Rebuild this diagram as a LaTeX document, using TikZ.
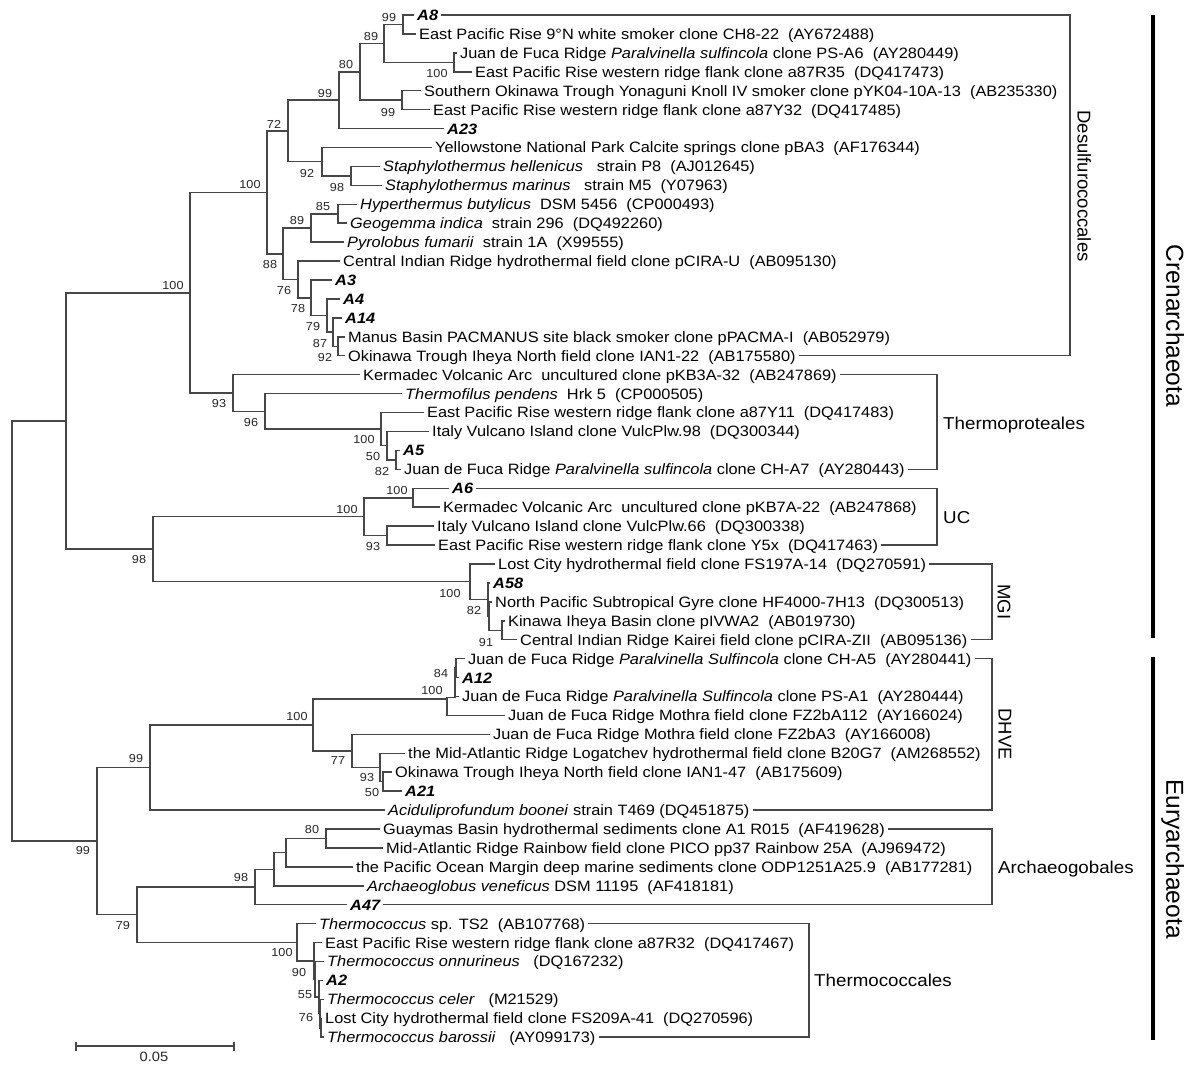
\documentclass[tikz,border=0pt]{standalone}
\usepackage{fontspec}
\setmainfont{Liberation Sans}[FakeStretch=1.09]
\newfontfamily\rotfont{Liberation Sans}
\usepackage{tikz}

\begin{document}
\begin{tikzpicture}[
    x=1pt, y=-1pt,
    branch/.style={draw=black!72, line width=1.45pt},
    bracket/.style={draw=black!72, line width=1.45pt},
    leaf/.style={anchor=west, inner xsep=3pt, inner ysep=0pt, text height=10.8pt, text depth=0pt, font=\fontsize{15}{17}\selectfont},
    clone/.style={leaf, font=\fontsize{15}{17}\selectfont\bfseries\itshape},
    boot/.style={inner sep=0pt, text height=8.3pt, text depth=0pt, text=black!85, font=\fontsize{11.6}{13}\selectfont},
    group/.style={anchor=west, inner sep=0pt, text height=12.4pt, text depth=0pt, font=\fontsize{17.2}{20}\selectfont},
    grouprot/.style={rotate=-90, inner sep=0pt, text height=13pt, text depth=0pt, font=\rotfont\fontsize{18.5}{20}\selectfont},
    phylum/.style={rotate=-90, inner sep=0pt, text height=17.5pt, text depth=0pt, font=\rotfont\fontsize{24.5}{26}\selectfont},
    phybar/.style={line width=4pt}
]
\useasboundingbox (0,0) rectangle (1190,1065);

% Leaves (Crenarchaeota)
\node[clone] (l1) at (414,15.0) {A8};
\node[leaf] (l2) at (416,33.9) {East Pacific Rise 9°N white smoker clone CH8-22~~(AY672488)};
\node[leaf] (l3) at (457,52.9) {Juan de Fuca Ridge \textit{Paralvinella sulfincola} clone PS-A6~~(AY280449)};
\node[leaf] (l4) at (472,71.8) {East Pacific Rise western ridge flank clone a87R35~~(DQ417473)};
\node[leaf] (l5) at (421,90.7) {Southern Okinawa Trough Yonaguni Knoll IV smoker clone pYK04-10A-13~~(AB235330)};
\node[leaf] (l6) at (430,109.7) {East Pacific Rise western ridge flank clone a87Y32~~(DQ417485)};
\node[clone] (l7) at (444,128.6) {A23};
\node[leaf] (l8) at (432,147.5) {Yellowstone National Park Calcite springs clone pBA3~~(AF176344)};
\node[leaf] (l9) at (380,166.4) {\textit{Staphylothermus hellenicus}~~~strain P8~~(AJ012645)};
\node[leaf] (l10) at (382,185.4) {\textit{Staphylothermus marinus}~~~strain M5~~(Y07963)};
\node[leaf] (l11) at (357,204.3) {\textit{Hyperthermus butylicus}~~DSM 5456~~(CP000493)};
\node[leaf] (l12) at (347,223.2) {\textit{Geogemma indica}~~strain 296~~(DQ492260)};
\node[leaf] (l13) at (344,242.2) {\textit{Pyrolobus fumarii}~~strain 1A~~(X99555)};
\node[leaf] (l14) at (340,261.1) {Central Indian Ridge hydrothermal field clone pCIRA-U~~(AB095130)};
\node[clone] (l15) at (332,280.0) {A3};
\node[clone] (l16) at (340,299.0) {A4};
\node[clone] (l17) at (342,317.9) {A14};
\node[leaf] (l18) at (345,336.8) {Manus Basin PACMANUS site black smoker clone pPACMA-I~~(AB052979)};
\node[leaf] (l19) at (345,355.7) {Okinawa Trough Iheya North field clone IAN1-22~~(AB175580)};
\node[leaf] (l20) at (360,374.7) {Kermadec Volcanic Arc~~uncultured clone pKB3A-32~~(AB247869)};
\node[leaf] (l21) at (402,393.6) {\textit{Thermofilus pendens}~~Hrk 5~~(CP000505)};
\node[leaf] (l22) at (424,412.5) {East Pacific Rise western ridge flank clone a87Y11~~(DQ417483)};
\node[leaf] (l23) at (429,431.5) {Italy Vulcano Island clone VulcPlw.98~~(DQ300344)};
\node[clone] (l24) at (400,450.4) {A5};
\node[leaf] (l25) at (401,469.3) {Juan de Fuca Ridge \textit{Paralvinella sulfincola} clone CH-A7~~(AY280443)};
\node[clone] (l26) at (449,488.3) {A6};
\node[leaf] (l27) at (440,507.2) {Kermadec Volcanic Arc~~uncultured clone pKB7A-22~~(AB247868)};
\node[leaf] (l28) at (434,526.1) {Italy Vulcano Island clone VulcPlw.66~~(DQ300338)};
\node[leaf] (l29) at (435,545.0) {East Pacific Rise western ridge flank clone Y5x~~(DQ417463)};
\node[leaf] (l30) at (495,564.0) {Lost City hydrothermal field clone FS197A-14~~(DQ270591)};
\node[clone] (l31) at (490,582.9) {A58};
\node[leaf] (l32) at (492,601.8) {North Pacific Subtropical Gyre clone HF4000-7H13~~(DQ300513)};
\node[leaf] (l33) at (505,620.8) {Kinawa Iheya Basin clone pIVWA2~~(AB019730)};
\node[leaf] (l34) at (517,639.7) {Central Indian Ridge Kairei field clone pCIRA-ZII~~(AB095136)};

% Leaves (Euryarchaeota)
\node[leaf] (l35) at (465,658.6) {Juan de Fuca Ridge \textit{Paralvinella Sulfincola} clone CH-A5~~(AY280441)};
\node[clone] (l36) at (459,677.6) {A12};
\node[leaf] (l37) at (459,696.5) {Juan de Fuca Ridge \textit{Paralvinella Sulfincola} clone PS-A1~~(AY280444)};
\node[leaf] (l38) at (505,715.4) {Juan de Fuca Ridge Mothra field clone FZ2bA112~~(AY166024)};
\node[leaf] (l39) at (490,734.3) {Juan de Fuca Ridge Mothra field clone FZ2bA3~~(AY166008)};
\node[leaf] (l40) at (405,753.3) {the Mid-Atlantic Ridge Logatchev hydrothermal field clone B20G7~~(AM268552)};
\node[leaf] (l41) at (392,772.2) {Okinawa Trough Iheya North field clone IAN1-47~~(AB175609)};
\node[clone] (l42) at (402,791.1) {A21};
\node[leaf] (l43) at (385,810.1) {\textit{Aciduliprofundum boonei} strain T469 (DQ451875)};
\node[leaf] (l44) at (380,829.0) {Guaymas Basin hydrothermal sediments clone A1 R015~~(AF419628)};
\node[leaf] (l45) at (383,847.9) {Mid-Atlantic Ridge Rainbow field clone PICO pp37 Rainbow 25A~~(AJ969472)};
\node[leaf] (l46) at (353,866.9) {the Pacific Ocean Margin deep marine sediments clone ODP1251A25.9~~(AB177281)};
\node[leaf] (l47) at (364,885.8) {\textit{Archaeoglobus veneficus} DSM 11195~~(AF418181)};
\node[clone] (l48) at (347,904.7) {A47};
\node[leaf] (l49) at (316,923.6) {\textit{Thermococcus} sp. TS2~~(AB107768)};
\node[leaf] (l50) at (322,942.6) {East Pacific Rise western ridge flank clone a87R32~~(DQ417467)};
\node[leaf] (l51) at (324,961.5) {\textit{Thermococcus onnurineus}~~~(DQ167232)};
\node[clone] (l52) at (323,980.4) {A2};
\node[leaf] (l53) at (324,999.4) {\textit{Thermococcus celer}~~~(M21529)};
\node[leaf] (l54) at (322,1018.3) {Lost City hydrothermal field clone FS209A-41~~(DQ270596)};
\node[leaf] (l55) at (324,1037.2) {\textit{Thermococcus barossii}~~~(AY099173)};

% Internal nodes
\coordinate (root) at (12,631);
\coordinate (U0) at (66,421);
\coordinate (C1) at (190,292.8);
\coordinate (C2) at (267,192.4);
\coordinate (C3) at (288,131);
\coordinate (C4) at (339,100.2);
\coordinate (C5) at (360,71.8);
\coordinate (C6) at (384,43.4);
\coordinate (C7) at (403,24.5);
\coordinate (C8) at (454,62.3);
\coordinate (C9) at (402,100.2);
\coordinate (C10) at (322,161.7);
\coordinate (C11) at (351,175.9);
\coordinate (C12) at (283,253.8);
\coordinate (C13) at (311,228);
\coordinate (C14) at (338,213.8);
\coordinate (C15) at (298,279.5);
\coordinate (C16) at (311,297.8);
\coordinate (C17) at (327,315.6);
\coordinate (C18) at (333,332.1);
\coordinate (C19) at (338,346.3);
\coordinate (C20) at (233,393.1);
\coordinate (C21) at (265,411.4);
\coordinate (C22) at (381,429.1);
\coordinate (C23) at (387,445.7);
\coordinate (C24) at (396,459.9);
\coordinate (C25) at (153,549.2);
\coordinate (UC) at (364,516.7);
\coordinate (UC1) at (413,497.8);
\coordinate (UC2) at (387,535.6);
\coordinate (MG) at (470,581.7);
\coordinate (M2) at (488,599.5);
\coordinate (M2b) at (489,616);
\coordinate (M3) at (502,630.3);
\coordinate (E1) at (97,841.1);
\coordinate (E2) at (150,767.5);
\coordinate (E4) at (313,724.9);
\coordinate (E5) at (447,698.9);
\coordinate (E7) at (455,697.5);
\coordinate (E7a) at (456,668.1);
\coordinate (E6) at (352,750.9);
\coordinate (E8) at (380,767.5);
\coordinate (E9) at (383,781.7);
\coordinate (E3) at (137,914.7);
\coordinate (E10) at (255,887);
\coordinate (E12) at (274,869.3);
\coordinate (E13) at (286,852.7);
\coordinate (E14) at (326,838.5);
\coordinate (E11) at (297,942.3);
\coordinate (E15) at (314,961);
\coordinate (E15b) at (315,979.3);
\coordinate (E15c) at (319,997);
\coordinate (E16) at (320,1013.6);
\coordinate (E17) at (321,1027.8);

% Branches
\foreach \p/\c in {root/U0, root/E1, U0/C1, U0/C25, C1/C2, C1/C20, C2/C3, C2/C12,
    C3/C4, C3/C10, C4/C5, C4/l7, C5/C6, C5/C9, C6/C7, C6/C8, C7/l1, C7/l2,
    C8/l3, C8/l4, C9/l5, C9/l6, C10/l8, C10/C11, C11/l9, C11/l10,
    C12/C13, C12/C15, C13/C14, C13/l13, C14/l11, C14/l12, C15/l14, C15/C16,
    C16/l15, C16/C17, C17/l16, C17/C18, C18/l17, C18/C19, C19/l18, C19/l19,
    C20/l20, C20/C21, C21/l21, C21/C22, C22/l22, C22/C23, C23/l23, C23/C24,
    C24/l24, C24/l25, C25/UC, C25/MG, UC/UC1, UC/UC2, UC1/l26, UC1/l27,
    UC2/l28, UC2/l29, MG/l30, MG/M2, M2/l31, M2/M2b, M2b/l32, M2b/M3,
    M3/l33, M3/l34}
  \draw[branch] (\p) |- (\c);
\foreach \p/\c in {E1/E2, E1/E3, E2/E4, E2/l43, E4/E5, E4/E6, E5/E7, E5/l38,
    E7/E7a, E7/l37, E7a/l35, E7a/l36, E6/l39, E6/E8, E8/l40, E8/E9, E9/l41, E9/l42,
    E3/E10, E3/E11, E10/E12, E10/l48, E12/E13, E12/l47, E13/E14, E13/l46,
    E14/l44, E14/l45, E11/l49, E11/E15, E15/l50, E15/E15b, E15b/l51, E15b/E15c,
    E15c/l52, E15c/E16, E16/l53, E16/E17, E17/l54, E17/l55}
  \draw[branch] (\p) |- (\c);

% Bootstrap values
\node[boot] (b1) at (389,17) {99};
\node[boot] (b2) at (371,36) {89};
\node[boot] (b3) at (346,64) {80};
\node[boot] (b4) at (325,93) {99};
\node[boot] (b5) at (437,73) {100};
\node[boot] (b6) at (388,112) {99};
\node[boot] (b7) at (274,124) {72};
\node[boot] (b8) at (250,184) {100};
\node[boot] (b9) at (307,173) {92};
\node[boot] (b10) at (337,187) {98};
\node[boot] (b11) at (323,206) {85};
\node[boot] (b12) at (297,220) {89};
\node[boot] (b13) at (270,264) {88};
\node[boot] (b14) at (284,290) {76};
\node[boot] (b15) at (298,308) {78};
\node[boot] (b16) at (313,326) {79};
\node[boot] (b17) at (320,343) {87};
\node[boot] (b18) at (325,357) {92};
\node[boot] (b19) at (173,285) {100};
\node[boot] (b20) at (219,403) {93};
\node[boot] (b21) at (251,422) {96};
\node[boot] (b22) at (364,439) {100};
\node[boot] (b23) at (373,456) {50};
\node[boot] (b24) at (382,471) {82};
\node[boot] (b25) at (397,490) {100};
\node[boot] (b26) at (347,509) {100};
\node[boot] (b27) at (373,546) {93};
\node[boot] (b28) at (139,559) {98};
\node[boot] (b29) at (450,593) {100};
\node[boot] (b30) at (474,610) {82};
\node[boot] (b31) at (486,642) {91};
\node[boot] (b32) at (441,673) {84};
\node[boot] (b33) at (432,690) {100};
\node[boot] (b34) at (297,716) {100};
\node[boot] (b35) at (338,760) {77};
\node[boot] (b36) at (367,777) {93};
\node[boot] (b37) at (372,792) {50};
\node[boot] (b38) at (136,758) {99};
\node[boot] (b39) at (83,850) {99};
\node[boot] (b40) at (312,829) {80};
\node[boot] (b41) at (241,877) {98};
\node[boot] (b42) at (123,925) {79};
\node[boot] (b43) at (282,952) {100};
\node[boot] (b44) at (299,972) {90};
\node[boot] (b45) at (305,994) {55};
\node[boot] (b46) at (306,1017) {76};

% Group brackets
\coordinate (dsb) at (1070,355.7);
\coordinate (thb) at (937,469.3);
\coordinate (ucb) at (937,545.0);
\coordinate (mgb) at (992,639.7);
\coordinate (dhb) at (992,810.1);
\coordinate (arb) at (992,904.7);
\coordinate (tcb) at (809,1037.2);
\draw[bracket] (l1) -| (dsb) -- (l19);
\draw[bracket] (l20) -| (thb) -- (l25);
\draw[bracket] (l26) -| (ucb) -- (l29);
\draw[bracket] (l30) -| (mgb) -- (l34);
\draw[bracket] (l35) -| (dhb) -- (l43);
\draw[bracket] (l44) -| (arb) -- (l48);
\draw[bracket] (l49) -| (tcb) -- (l55);

% Group labels
\node[grouprot] (gDes) at (1084,186) {Desulfurococcales};
\node[group] (gThp) at (943,423) {Thermoproteales};
\node[group] (gUC) at (943,517) {UC};
\node[grouprot] (gMGI) at (1004,602) {MGI};
\node[grouprot] (gDHVE) at (1005,734) {DHVE};
\node[group] (gArc) at (998,867) {Archaeogobales};
\node[group] (gThc) at (814,980) {Thermococcales};

% Phylum bars
\coordinate (cb1) at (1153,15);
\coordinate (cb2) at (1153,638);
\coordinate (eb1) at (1153,657);
\coordinate (eb2) at (1153,1040);
\draw[phybar] (cb1) -- (cb2);
\draw[phybar] (eb1) -- (eb2);
\node[phylum] (pCren) at (1175,326) {Crenarchaeota};
\node[phylum] (pEury) at (1175,859) {Euryarchaeota};

% Scale bar
\coordinate (sb1) at (76,1046);
\coordinate (sb2) at (234,1046);
\draw[branch] (sb1) -- (sb2);
\draw[branch] ([yshift=4.5pt]sb1) -- ([yshift=-4.5pt]sb1);
\draw[branch] ([yshift=4.5pt]sb2) -- ([yshift=-4.5pt]sb2);
\node[boot, font=\fontsize{13.5}{15}\selectfont, text height=9.7pt] (sbl) at (154,1057) {0.05};

\end{tikzpicture}
\end{document}
